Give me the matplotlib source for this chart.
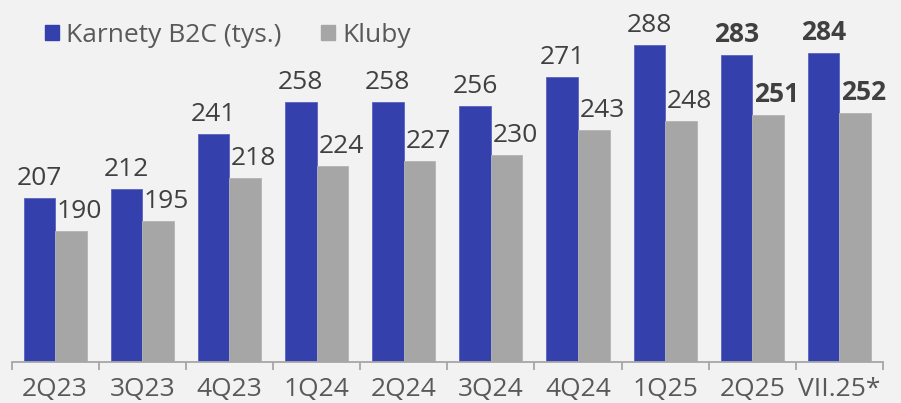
import numpy as np
import matplotlib.pyplot as plt
from matplotlib.patches import Patch

plt.rcParams["font.family"] = ["Open Sans", "DejaVu Sans"]

quarters = ["2Q23", "3Q23", "4Q23", "1Q24", "2Q24", "3Q24", "4Q24", "1Q25", "2Q25", "VII.25*"]
karnety = [207, 212, 241, 258, 258, 256, 271, 288, 283, 284]
kluby = [190, 195, 218, 224, 227, 230, 243, 248, 251, 252]
bold_from = 8

blue = "#3441ac"
grey = "#a6a6a6"
bg = "#f2f2f2"

fig = plt.figure(figsize=(9.01, 4.03), dpi=100, facecolor=bg)
ax = fig.add_axes([11.5 / 901, 41.3 / 403, (883 - 11.5) / 901, 361.7 / 403])
ax.set_facecolor(bg)

x = np.arange(len(quarters))
w = 0.362
ax.bar(x - w / 2, karnety, w, color=blue, edgecolor="#5a62c2", linewidth=0.6)
ax.bar(x + w / 2, kluby, w, color=grey, edgecolor="#b4b4b4", linewidth=0.6)

for i in range(len(quarters)):
    weight = "bold" if i >= bold_from else "normal"
    ax.annotate(str(karnety[i]), (x[i] - w / 2, karnety[i]), xytext=(0, 5),
                textcoords="offset points", ha="center", va="bottom",
                fontsize=19, color="#404040", fontweight=weight)
    ax.annotate(str(kluby[i]), (x[i] + w / 2 + 0.1, kluby[i]), xytext=(0, 5),
                textcoords="offset points", ha="center", va="bottom",
                fontsize=19, color="#404040", fontweight=weight)

ax.set_xlim(-0.5, len(quarters) - 0.5)
ax.set_ylim(120.7, 311.8)
ax.set_yticks([])
for s in ["top", "left", "right"]:
    ax.spines[s].set_visible(False)
ax.spines["bottom"].set_color("#a6a6a6")
ax.spines["bottom"].set_linewidth(1.3)

ax.set_xticks(x)
ax.set_xticklabels(quarters, fontsize=19, color="#595959")
ax.tick_params(axis="x", which="major", length=0, pad=11)
ax.set_xticks(np.arange(-0.5, len(quarters)), minor=True)
ax.tick_params(axis="x", which="minor", length=6, width=1.3, color="#a6a6a6")

handles = [Patch(color=blue), Patch(color=grey)]
fig.legend(handles, ["Karnety B2C (tys.)", "Kluby"], loc="upper left",
           bbox_to_anchor=(0.024, 1.003), ncol=2, frameon=False, fontsize=19,
           labelcolor="#595959", handlelength=0.5, handleheight=0.5,
           handletextpad=0.3, columnspacing=1.5)

fig.savefig("out.png", dpi=100, facecolor=bg)
